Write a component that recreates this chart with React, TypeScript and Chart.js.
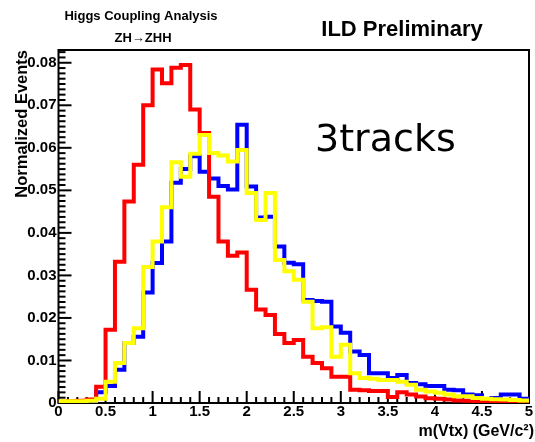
import React, { useEffect, useRef } from "react";
import { Chart, registerables } from "chart.js";

Chart.register(...registerables);

// Bin edges of the histograms (GeV/c^2)
const binEdges = [
  0.0, 0.1, 0.2, 0.3, 0.4, 0.5, 0.6, 0.7, 0.8, 0.9,
  1.0, 1.1, 1.2, 1.3, 1.4, 1.5, 1.6, 1.7, 1.8, 1.9,
  2.0, 2.1, 2.2, 2.3, 2.4, 2.5, 2.6, 2.7, 2.8, 2.9,
  3.0, 3.1, 3.2, 3.3, 3.4, 3.5, 3.6, 3.7, 3.8, 3.9,
  4.0, 4.1, 4.2, 4.3, 4.4, 4.5, 4.6, 4.7, 4.8, 4.9,
  5.0,
];

const redValues = [
  0.0003, 0.0004, 0.0005, 0.0008, 0.0038, 0.0172, 0.0332, 0.0474, 0.056, 0.07,
  0.0784, 0.0752, 0.0788, 0.0795, 0.069, 0.0635, 0.0485, 0.038, 0.0346, 0.0354,
  0.0266, 0.022, 0.0207, 0.0162, 0.0141, 0.0148, 0.0109, 0.0094, 0.0082, 0.0062,
  0.0062, 0.0031, 0.003, 0.0028, 0.0028, 0.0014, 0.0025, 0.002, 0.0015, 0.0011,
  0.001, 0.0008, 0.0006, 0.0005, 0.0003, 0.0003, 0.0002, 0.0002, 0.0001, 0.0001,
];

const blueValues = [
  0.0002, 0.0003, 0.0003, 0.0004, 0.0025, 0.004, 0.0078, 0.0141, 0.0156, 0.026,
  0.0329, 0.038, 0.0518, 0.055, 0.058, 0.0544, 0.0528, 0.051, 0.0502, 0.0654,
  0.0509, 0.0436, 0.0438, 0.0368, 0.033, 0.0326, 0.0242, 0.024, 0.0238, 0.018,
  0.0165, 0.0121, 0.0113, 0.007, 0.007, 0.0059, 0.0066, 0.0047, 0.0044, 0.004,
  0.004, 0.0031, 0.003, 0.002, 0.0018, 0.0008, 0.0012, 0.002, 0.002, 0.001,
];

const yellowValues = [
  0.0004, 0.0004, 0.0004, 0.0005, 0.001, 0.005, 0.0094, 0.0141, 0.0176, 0.032,
  0.038, 0.046, 0.0566, 0.0532, 0.0586, 0.063, 0.0588, 0.0582, 0.0568, 0.0595,
  0.0494, 0.043, 0.0494, 0.0336, 0.031, 0.029, 0.0238, 0.0176, 0.0178, 0.0109,
  0.0137, 0.007, 0.0059, 0.0057, 0.0054, 0.0054, 0.005, 0.0043, 0.0031, 0.0027,
  0.0024, 0.002, 0.0016, 0.0016, 0.0012, 0.001, 0.0009, 0.0008, 0.0007, 0.0006,
];

const xTickValues = [0, 0.5, 1, 1.5, 2, 2.5, 3, 3.5, 4, 4.5, 5];
const xTickLabels = ["0", "0.5", "1", "1.5", "2", "2.5", "3", "3.5", "4", "4.5", "5"];
const yTickValues = [0, 0.01, 0.02, 0.03, 0.04, 0.05, 0.06, 0.07, 0.08];
const yTickLabels = ["0", "0.01", "0.02", "0.03", "0.04", "0.05", "0.06", "0.07", "0.08"];

const X_MIN = 0;
const X_MAX = 5;
const Y_MIN = 0;
const Y_MAX = 0.083;
const X_MINOR_PER_MAJOR = 5;
const Y_MINOR_PER_MAJOR = 8;

const FONT = "'Liberation Sans', Arial, Helvetica, sans-serif";

function toSteps(values: number[]) {
  return binEdges.map((x, i) => ({ x, y: values[Math.min(i, values.length - 1)] }));
}

const frameTicksPlugin = {
  id: "frameTicks",
  beforeDatasetsDraw(chart: any) {
    const { ctx, chartArea: a } = chart;
    const xs = chart.scales.x;
    const ys = chart.scales.y;
    ctx.save();
    ctx.strokeStyle = "#000";
    ctx.lineWidth = 2;
    ctx.strokeRect(a.left, a.top, a.right - a.left, a.bottom - a.top);
    ctx.lineWidth = 2;
    // x ticks (inside, upward)
    for (let i = 0; i < xTickValues.length; i++) {
      const v = xTickValues[i];
      const px = xs.getPixelForValue(v);
      ctx.beginPath();
      ctx.moveTo(px, a.bottom);
      ctx.lineTo(px, a.bottom - 12);
      ctx.stroke();
      if (i < xTickValues.length - 1) {
        const step = (xTickValues[i + 1] - v) / X_MINOR_PER_MAJOR;
        for (let k = 1; k < X_MINOR_PER_MAJOR; k++) {
          const mp = xs.getPixelForValue(v + k * step);
          ctx.beginPath();
          ctx.moveTo(mp, a.bottom);
          ctx.lineTo(mp, a.bottom - 6);
          ctx.stroke();
        }
      }
    }
    // y ticks (inside, rightward)
    const yStep = yTickValues[1] - yTickValues[0];
    for (let i = 0; i < yTickValues.length; i++) {
      const v = yTickValues[i];
      const py = ys.getPixelForValue(v);
      ctx.beginPath();
      ctx.moveTo(a.left, py);
      ctx.lineTo(a.left + 13, py);
      ctx.stroke();
      const ms = yStep / Y_MINOR_PER_MAJOR;
      for (let k = 1; k < Y_MINOR_PER_MAJOR; k++) {
        const mv = v + k * ms;
        if (mv > Y_MAX) break;
        const mp = ys.getPixelForValue(mv);
        ctx.beginPath();
        ctx.moveTo(a.left, mp);
        ctx.lineTo(a.left + 7, mp);
        ctx.stroke();
      }
    }
    ctx.restore();
  },
};

const textPlugin = {
  id: "texts",
  afterDraw(chart: any) {
    const { ctx } = chart;
    ctx.save();
    ctx.fillStyle = "#000";
    // header texts
    ctx.textAlign = "center";
    ctx.textBaseline = "middle";
    ctx.font = `bold 13px ${FONT}`;
    ctx.fillText("Higgs Coupling Analysis", 141, 16);
    ctx.fillText("ZH\u2192ZHH", 143, 38);
    ctx.font = `bold 22px ${FONT}`;
    ctx.fillText("ILD Preliminary", 402, 30);
    // annotation
    ctx.textAlign = "left";
    ctx.textBaseline = "alphabetic";
    ctx.font = `38px 'DejaVu Sans', sans-serif`;
    ctx.fillText("3tracks", 315, 151);
    // x title
    ctx.font = `bold 16px ${FONT}`;
    ctx.textAlign = "right";
    ctx.textBaseline = "middle";
    ctx.fillText("m(Vtx) (GeV/c\u00B2)", 534, 432);
    // y title
    ctx.translate(22, 50);
    ctx.rotate(-Math.PI / 2);
    ctx.textAlign = "right";
    ctx.textBaseline = "middle";
    ctx.font = `bold 16.5px ${FONT}`;
    ctx.fillText("Normalized Events", 0, 0);
    ctx.restore();
  },
};

export default function App() {
  const canvasRef = useRef<HTMLCanvasElement | null>(null);

  useEffect(() => {
    document.body.style.margin = "0";
    const canvas = canvasRef.current;
    if (!canvas) return;
    const lineDs = (label: string, values: number[], color: string, order: number) => ({
      label,
      data: toSteps(values),
      borderColor: color,
      backgroundColor: color,
      borderWidth: 4,
      stepped: "before" as const,
      pointRadius: 0,
      fill: false,
      tension: 0,
      borderJoinStyle: "miter" as const,
      borderCapStyle: "butt" as const,
      order,
    });
    const chart = new Chart(canvas, {
      type: "line",
      data: {
        datasets: [
          lineDs("yellow", yellowValues, "#ffff00", 0),
          lineDs("red", redValues, "#ff0000", 1),
          lineDs("blue", blueValues, "#0000ff", 2),
        ],
      },
      options: {
        responsive: false,
        animation: false,
        devicePixelRatio: 1,
        layout: { padding: { left: 0, right: 6, top: 50, bottom: 0 } },
        plugins: { legend: { display: false }, tooltip: { enabled: false } },
        scales: {
          x: {
            type: "linear",
            min: X_MIN,
            max: X_MAX,
            grid: { display: false, drawTicks: false },
            border: { display: false },
            afterBuildTicks: (s: any) => {
              s.ticks = xTickValues.map((v) => ({ value: v }));
            },
            afterFit: (s: any) => {
              s.height = 39;
            },
            ticks: {
              autoSkip: false,
              maxRotation: 0,
              padding: 0,
              color: "#000",
              font: { family: FONT, size: 15, weight: "bold" },
              callback: (v: any) => xTickLabels[xTickValues.indexOf(Number(v))] ?? "",
            },
          },
          y: {
            type: "linear",
            min: Y_MIN,
            max: Y_MAX,
            grid: { display: false, drawTicks: false },
            border: { display: false },
            afterBuildTicks: (s: any) => {
              s.ticks = yTickValues.map((v) => ({ value: v }));
            },
            afterFit: (s: any) => {
              s.width = 58.5;
            },
            ticks: {
              autoSkip: false,
              padding: 2,
              color: "#000",
              font: { family: FONT, size: 15, weight: "bold" },
              callback: (v: any) => yTickLabels[yTickValues.indexOf(Number(v))] ?? "",
            },
          },
        },
      },
      plugins: [frameTicksPlugin, textPlugin],
    } as any);
    return () => chart.destroy();
  }, []);

  return (
    <div style={{ position: "absolute", left: 0, top: 0, width: 535, height: 442, background: "#fff" }}>
      <canvas ref={canvasRef} width={535} height={442} style={{ display: "block", width: 535, height: 442 }} />
    </div>
  );
}
